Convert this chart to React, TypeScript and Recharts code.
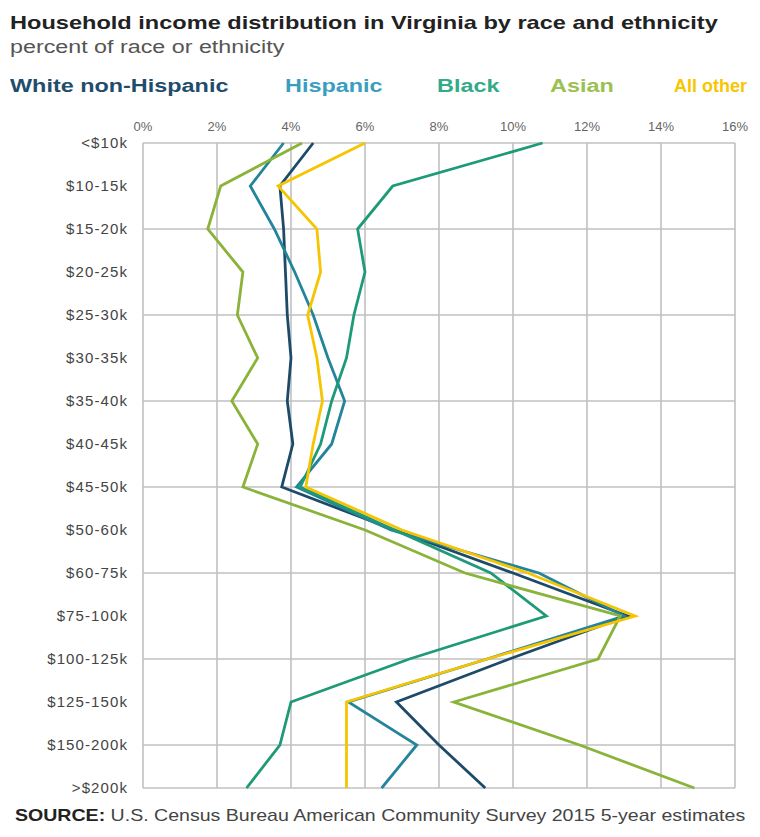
import { CartesianGrid, Line, LineChart, XAxis, YAxis } from "recharts"

const brackets = [
  "<$10k", "$10-15k", "$15-20k", "$20-25k", "$25-30k", "$30-35k", "$35-40k", "$40-45k",
  "$45-50k", "$50-60k", "$60-75k", "$75-100k", "$100-125k", "$125-150k", "$150-200k", ">$200k",
]

const whiteNonHispanic = [4.6, 3.7, 3.8, 3.85, 3.9, 4.0, 3.9, 4.05, 3.75, 6.8, 10.0, 13.1, 9.9, 6.85, 8.0, 9.25]
const hispanic = [3.8, 2.9, 3.55, 4.1, 4.6, 5.0, 5.45, 5.1, 4.15, 6.7, 10.7, 13.0, 9.3, 5.55, 7.4, 6.45]
const black = [10.8, 6.75, 5.8, 6.0, 5.7, 5.5, 5.1, 4.8, 4.25, 6.8, 9.4, 10.9, 7.2, 4.0, 3.7, 2.8]
const asian = [4.3, 2.1, 1.75, 2.7, 2.55, 3.1, 2.4, 3.1, 2.7, 6.0, 8.7, 12.9, 12.3, 8.4, 11.8, 14.9]
const allOther = [6.0, 3.65, 4.7, 4.8, 4.45, 4.7, 4.85, 4.6, 4.4, 7.0, 10.4, 13.3, 9.3, 5.5, 5.5, 5.5]

const percentTicks = [0, 2, 4, 6, 8, 10, 12, 14, 16]
// horizontal gridlines fall on every other bracket
const gridBrackets = brackets.filter((_, i) => i % 2 === 0 && i < brackets.length - 1)

const series = [
  { key: "white", name: "White non-Hispanic", values: whiteNonHispanic, color: "#1d4a68", label: "#1f4d6c" },
  { key: "hispanic", name: "Hispanic", values: hispanic, color: "#23849c", label: "#3a9ec0" },
  { key: "black", name: "Black", values: black, color: "#1f9a78", label: "#33aa88" },
  { key: "asian", name: "Asian", values: asian, color: "#8ab33a", label: "#9cc052" },
  { key: "other", name: "All other", values: allOther, color: "#f6c400", label: "#f7c600" },
]
const legendLeft = [10, 285, 437, 550, 674]
const legendStretch = [1.3, 1.3, 1.3, 1.3, 1.0]

const data = brackets.map((bracket, i) => {
  const row: Record<string, string | number> = { bracket }
  series.forEach((s) => (row[s.key] = s.values[i]))
  return row
})

const font = "'Liberation Sans', Arial, sans-serif"

const stretched = (left: number, top: number, sx: number): React.CSSProperties => ({
  position: "absolute",
  left,
  top,
  whiteSpace: "nowrap",
  transform: `scaleX(${sx})`,
  transformOrigin: "left center",
})

export default function App() {
  return (
    <div style={{ position: "absolute", left: 0, top: 0, width: 760, height: 837, background: "#fff", fontFamily: font, overflow: "hidden" }}>
      <div style={{ ...stretched(10, 12, 1.24), fontSize: 19, fontWeight: "bold", color: "#222" }}>
        Household income distribution in Virginia by race and ethnicity
      </div>
      <div style={{ ...stretched(10, 37, 1.33), fontSize: 17.5, color: "#555" }}>
        percent of race or ethnicity
      </div>
      {series.map((s, i) => (
        <div key={s.key} style={{ ...stretched(legendLeft[i], 76, legendStretch[i]), fontSize: 18, fontWeight: "bold", color: s.label }}>
          {s.name}
        </div>
      ))}
      <div style={{ position: "absolute", top: 0, left: 0 }}>
        <LineChart layout="vertical" width={760} height={837} data={data} margin={{ top: 113, right: 25, bottom: 49, left: 8 }}>
          <CartesianGrid stroke="#c0c0c0" strokeWidth={1.6} yAxisId="grid" />
          <XAxis
            type="number"
            orientation="top"
            domain={[0, 16]}
            ticks={percentTicks}
            tickFormatter={(v) => `${v}%`}
            axisLine={false}
            tickLine={false}
            tickSize={0}
            tickMargin={12}
            height={30}
            tick={{ fill: "#666", fontSize: 13 }}
          />
          <YAxis
            type="category"
            dataKey="bracket"
            width={135}
            axisLine={false}
            tickLine={false}
            tickSize={0}
            tickMargin={15}
            interval={0}
            tick={{ fill: "#444", fontSize: 15, letterSpacing: 1.1 }}
          />
          <YAxis yAxisId="grid" type="category" dataKey="bracket" ticks={gridBrackets} interval={0} hide />
          {series.map((s) => (
            <Line
              key={s.key}
              dataKey={s.key}
              name={s.name}
              stroke={s.color}
              strokeWidth={2.8}
              dot={false}
              isAnimationActive={false}
            />
          ))}
        </LineChart>
      </div>
      <div style={{ ...stretched(15, 806, 1.15), fontSize: 17, color: "#444" }}>
        <span style={{ fontWeight: "bold", color: "#222" }}>SOURCE:</span> U.S. Census Bureau American Community Survey 2015 5-year estimates
      </div>
    </div>
  )
}
